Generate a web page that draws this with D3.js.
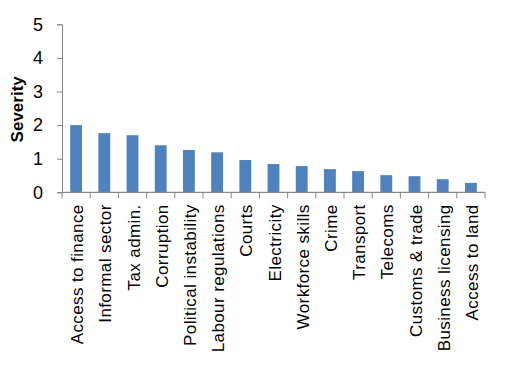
<!DOCTYPE html>
<html>
<head>
<meta charset="utf-8">
<script src="https://cdn.jsdelivr.net/npm/d3@7"></script>
<style>
  body { margin: 0; background: #fff; }
  svg { display: block; }
</style>
</head>
<body>
<svg width="508" height="383"></svg>
<script>
// data
const categories = ["Access to finance", "Informal sector", "Tax admin.", "Corruption",
  "Political instability", "Labour regulations", "Courts", "Electricity", "Workforce skills",
  "Crime", "Transport", "Telecoms", "Customs & trade", "Business licensing", "Access to land"];
const severity = [2.0, 1.76, 1.70, 1.40, 1.26, 1.19, 0.96, 0.84, 0.78, 0.69, 0.63, 0.51, 0.48, 0.39, 0.28];
const yTicks = [0, 1, 2, 3, 4, 5];

const svg = d3.select('svg');
const plotLeft = 62, plotRight = 485, plotTop = 24.3, plotBottom = 192.3;
const axisColor = "#868686";
const font = "'Liberation Sans', Arial, sans-serif";

const x = d3.scaleBand()
    .domain(categories)
    .range([plotLeft, plotRight])
    .paddingInner(0.58)
    .paddingOuter(0.29);

const y = d3.scaleLinear()
    .domain([0, 5])
    .range([plotBottom, plotTop]);

// bars
svg.append('g')
    .selectAll('rect')
    .data(categories)
    .join('rect')
    .attr('x', d => x(d))
    .attr('width', x.bandwidth())
    .attr('y', (d, i) => y(severity[i]))
    .attr('height', (d, i) => y(0) - y(severity[i]))
    .attr('fill', '#4F81BD');

// y axis
const yAxis = svg.append('g')
    .attr('transform', `translate(${plotLeft},0)`)
    .call(d3.axisLeft(y).tickValues(yTicks).tickSize(5).tickPadding(14).tickFormat(d3.format('d')));
yAxis.select('.domain').attr('stroke', axisColor).attr('stroke-width', 1);
yAxis.selectAll('.tick line').attr('stroke', axisColor);
yAxis.selectAll('.tick text')
    .attr('font-family', font)
    .attr('font-size', 18)
    .attr('fill', '#000');

// x axis: ticks sit between the categories
const step = (plotRight - plotLeft) / categories.length;
const xb = svg.append('g');
xb.append('line')
    .attr('x1', plotLeft).attr('x2', plotRight)
    .attr('y1', plotBottom).attr('y2', plotBottom)
    .attr('stroke', axisColor).attr('stroke-width', 1.3);
xb.selectAll('line.tk')
    .data(d3.range(categories.length + 1))
    .join('line')
    .attr('class', 'tk')
    .attr('x1', i => plotLeft + i * step).attr('x2', i => plotLeft + i * step)
    .attr('y1', plotBottom).attr('y2', plotBottom + 6)
    .attr('stroke', axisColor);

xb.selectAll('text')
    .data(categories)
    .join('text')
    .text(d => d)
    .attr('transform', d => `translate(${x(d) + x.bandwidth() / 2 + 7},${plotBottom + 12}) rotate(-90)`)
    .attr('text-anchor', 'end')
    .attr('font-family', font)
    .attr('font-size', 17)
    .attr('letter-spacing', 0.4)
    .attr('fill', '#000');

// axis title
svg.append('text')
    .text('Severity')
    .attr('transform', `translate(23,${(plotTop + plotBottom) / 2 + 1}) rotate(-90)`)
    .attr('text-anchor', 'middle')
    .attr('font-family', font)
    .attr('font-weight', 'bold')
    .attr('font-size', 17)
    .attr('fill', '#000');
</script>
</body>
</html>
